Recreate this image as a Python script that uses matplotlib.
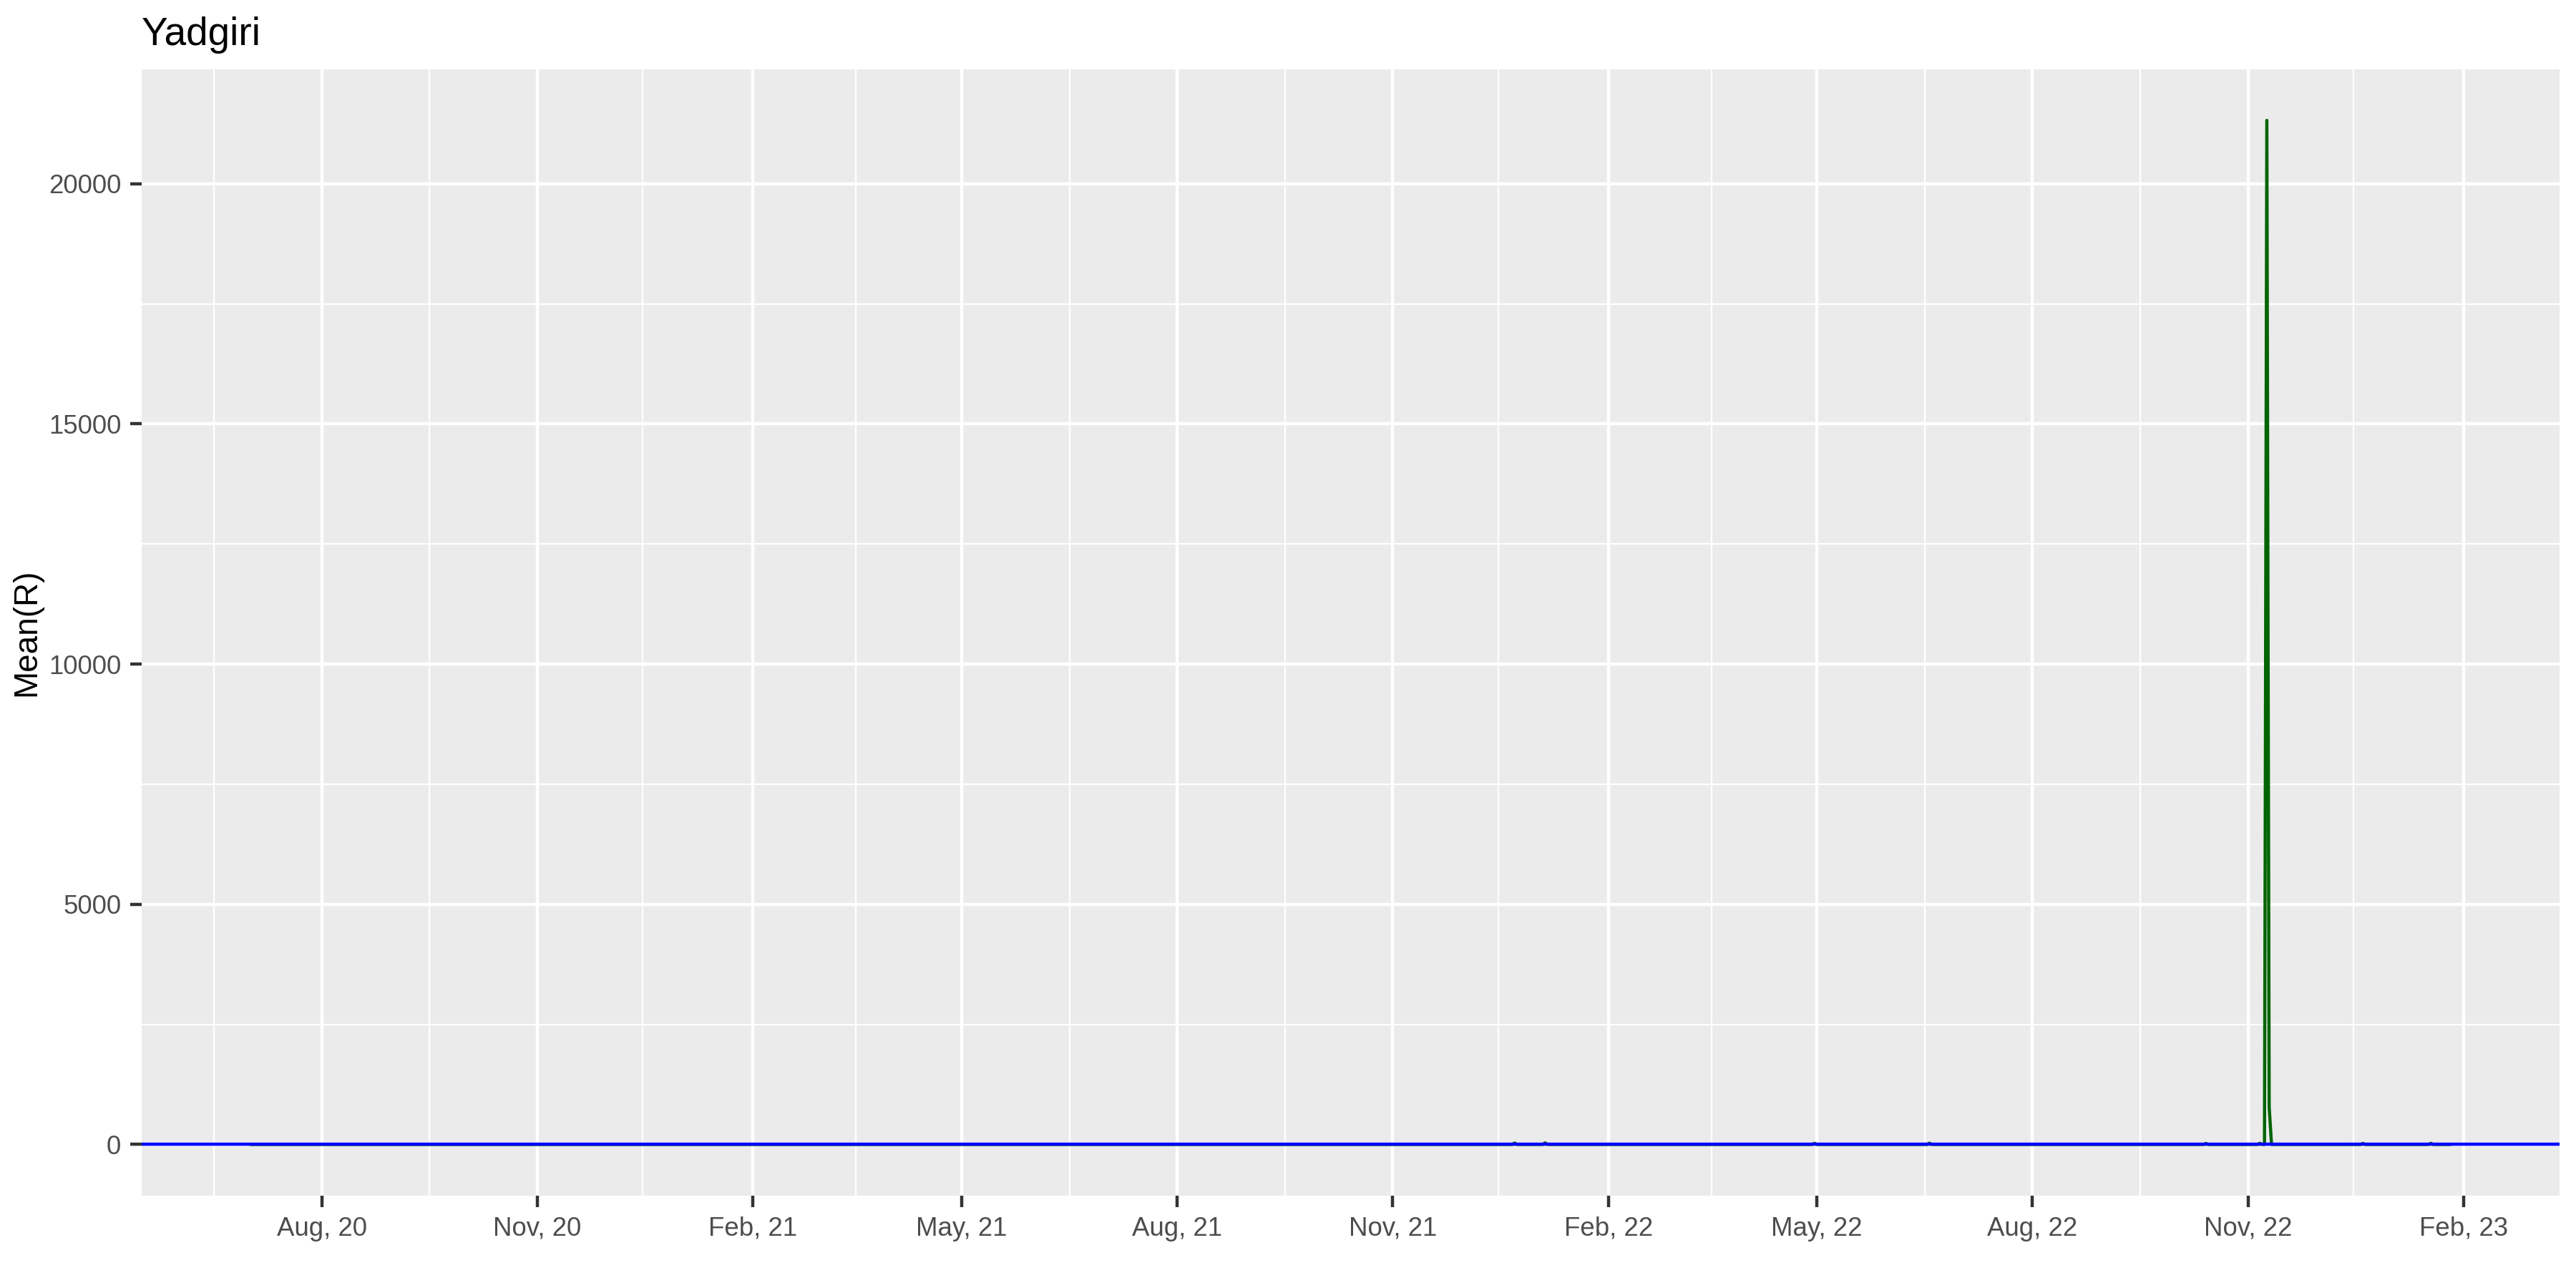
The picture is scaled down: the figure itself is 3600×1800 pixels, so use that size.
import numpy as np
import pandas as pd
import matplotlib
matplotlib.use("Agg")
import matplotlib.pyplot as plt
import matplotlib.dates as mdates

plt.rcParams['font.family'] = ['Liberation Sans', 'DejaVu Sans']

# daily mean R for Yadgiri: flat around 1, a few small blips and one huge spike
dates = ["2020-07-02", "2021-12-22", "2021-12-23", "2021-12-24",
         "2022-01-04", "2022-01-05", "2022-01-06",
         "2022-04-29", "2022-04-30", "2022-05-01",
         "2022-06-17", "2022-06-18", "2022-06-19",
         "2022-10-13", "2022-10-14", "2022-10-15",
         "2022-11-05", "2022-11-06", "2022-11-07",
         "2022-11-08", "2022-11-09", "2022-11-10", "2022-11-11",
         "2022-12-19", "2022-12-20", "2022-12-21",
         "2023-01-17", "2023-01-18", "2023-01-19", "2023-01-26"]
mean_r = [1.2, 1.0, 28, 1.0,
          1.0, 32, 1.0,
          1.0, 22, 1.0,
          1.0, 25, 1.0,
          1.0, 20, 1.0,
          1.0, 24, 1.0,
          1.0, 21320, 780, 1.0,
          1.0, 20, 1.0,
          1.0, 22, 1.0, 1.0]
threshold = 1

y_ticks = [0, 5000, 10000, 15000, 20000]
y_minor = [2500, 7500, 12500, 17500]
x_ticks = pd.date_range("2020-08-01", "2023-02-01", freq="3MS")
x_minor = pd.to_datetime(["2020-06-16", "2020-09-16", "2020-12-16", "2021-03-17",
                          "2021-06-16", "2021-09-16", "2021-12-16", "2022-03-17",
                          "2022-06-16", "2022-09-16", "2022-12-16"])

d = pd.to_datetime(dates)

fig = plt.figure(figsize=(12, 6), dpi=300)
ax = fig.add_axes([0.055, 0.0717, 0.9386, 0.8746])
ax.set_facecolor('#EBEBEB')
for s in ax.spines.values():
    s.set_visible(False)

# ggplot-style grid
ax.set_yticks(y_ticks)
ax.set_yticks(y_minor, minor=True)
ax.set_xticks(x_ticks)
ax.set_xticks(x_minor, minor=True)
ax.grid(which='major', color='white', lw=1.07)
ax.grid(which='minor', color='white', lw=0.53)
ax.set_axisbelow(True)

ax.plot(d, mean_r, color='darkgreen', lw=1.07, solid_joinstyle='round')
ax.axhline(threshold, color='blue', lw=1.07)

# 5% expansion like ggplot
x0, x1 = mdates.date2num(d.min()), mdates.date2num(d.max())
span = x1 - x0
ax.set_xlim(x0 - 0.05 * span, x1 + 0.05 * span)
ymax = max(mean_r)
ax.set_ylim(-0.05 * ymax, 1.05 * ymax)

ax.xaxis.set_major_formatter(mdates.DateFormatter('%b, %y'))
ax.tick_params(which='major', length=3.9, width=1.07, color='#333333',
               labelcolor='#4D4D4D', labelsize=8.8, pad=3)
ax.tick_params(which='minor', length=0)

ax.set_ylabel('Mean(R)', fontsize=11, labelpad=2)
ax.set_title('Yadgiri', loc='left', fontsize=13.2, pad=8)

fig.savefig('out.png', dpi=300, facecolor='white')
